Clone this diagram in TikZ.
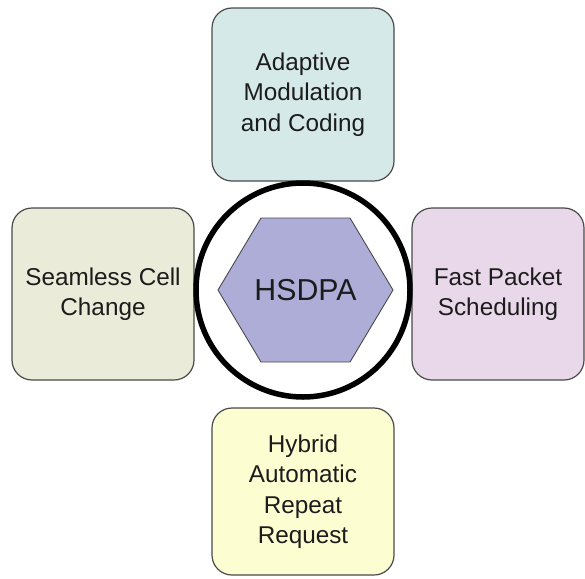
\documentclass[tikz,border=0pt]{standalone}
\usepackage{fontspec}
\setmainfont{Liberation Sans}
\definecolor{boxline}{HTML}{4A4A4A}
\definecolor{amccol}{HTML}{D6E9E9}
\definecolor{scccol}{HTML}{EBEBDA}
\definecolor{fpscol}{HTML}{E9D8EA}
\definecolor{harqcol}{HTML}{FDFDD2}
\definecolor{hexcol}{HTML}{ADADD8}
\definecolor{txtcol}{HTML}{1C1C1C}
\begin{document}
\begin{tikzpicture}[x=1pt,y=-1pt,
  featbox/.style={draw=boxline, line width=1.2pt, rounded corners=20pt,
    inner sep=0pt, align=center, text=txtcol,
    font=\fontsize{24.3}{30.5}\selectfont},
  hexshape/.style={draw=boxline, line width=0.9pt, fill=hexcol}]
\useasboundingbox (0,0) rectangle (585,578);
\node[featbox, fill=amccol, minimum width=182pt, minimum height=173pt] (amc) at (303,94.5)
  {Adaptive\\Modulation\\and Coding};
\node[featbox, fill=scccol, minimum width=182pt, minimum height=172pt] (scc) at (103,294)
  {Seamless Cell\\Change};
\node[featbox, fill=fpscol, minimum width=172pt, minimum height=172pt] (fps) at (498,294)
  {Fast Packet\\Scheduling};
\node[featbox, fill=harqcol, minimum width=182pt, minimum height=167pt] (harq) at (303,491.5)
  {Hybrid\\Automatic\\Repeat\\Request};
\node[circle, draw=black, line width=5.5pt, fill=white, minimum size=214pt, inner sep=0pt] (ring) at (303,290) {};
\draw[hexshape] (218,290) -- (261,218) -- (350,218) -- (393,290) -- (350,362) -- (261,362) -- cycle;
\node[text=txtcol, font=\fontsize{30.3}{35}\selectfont] (hsdpa) at (305.5,290) {HSDPA};
\end{tikzpicture}
\end{document}
